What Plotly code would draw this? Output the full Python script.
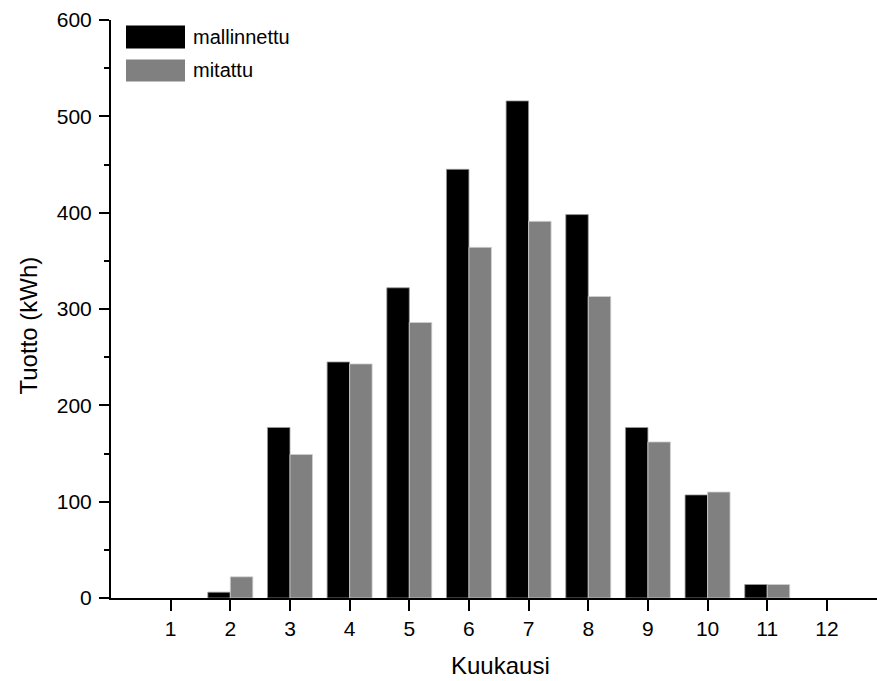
import plotly.graph_objects as go

months = [1, 2, 3, 4, 5, 6, 7, 8, 9, 10, 11, 12]
mallinnettu = [0, 6, 177, 245, 322, 445, 516, 398, 177, 107, 14, 0]
mitattu = [0, 22, 149, 243, 286, 364, 391, 313, 162, 110, 14, 0]
y_ticks = [0, 100, 200, 300, 400, 500, 600]
y_minor_ticks = [50, 150, 250, 350, 450, 550]

FONT = "Liberation Sans, Arial, sans-serif"


def outline(values, color):
    return [color if v > 0 else "rgba(0,0,0,0)" for v in values]


fig = go.Figure()
fig.add_trace(go.Bar(x=months, y=mallinnettu, name="mallinnettu",
                     marker=dict(color="#000000",
                                 line=dict(color=outline(mallinnettu, "#9a9a9a"), width=0.8)),
                     showlegend=False))
fig.add_trace(go.Bar(x=months, y=mitattu, name="mitattu",
                     marker=dict(color="#808080",
                                 line=dict(color=outline(mitattu, "#d0d0d0"), width=0.8)),
                     showlegend=False))

fig.update_layout(
    width=877, height=681,
    margin=dict(l=111, r=0, t=20, b=83),
    paper_bgcolor="white", plot_bgcolor="white",
    barmode="group", bargap=0.246, bargroupgap=0,
    font=dict(family=FONT, color="black", size=20),
    xaxis=dict(range=[0, 12.84], tickmode="array", tickvals=months,
               showgrid=False, zeroline=False, showline=True, linecolor="black", linewidth=2,
               ticks="outside", ticklen=11, tickwidth=2, tickcolor="black",
               tickfont=dict(size=21, family=FONT)),
    yaxis=dict(range=[0, 600], tickmode="array", tickvals=y_ticks,
               showgrid=False, zeroline=False, showline=True, linecolor="black", linewidth=2,
               ticks="outside", ticklen=10, tickwidth=2, tickcolor="black",
               ticklabelstandoff=3,
               tickfont=dict(size=21, family=FONT),
               minor=dict(tickmode="array", tickvals=y_minor_ticks, ticks="outside",
                          ticklen=5, tickwidth=2, tickcolor="black")),
)

PLOT_W, PLOT_H = 766, 578


def px(xp):
    return (xp - 111) / PLOT_W


def py(yp):
    return (597.5 - yp) / PLOT_H


# axis titles
fig.add_annotation(text="Kuukausi", xref="paper", yref="paper",
                   x=px(500), y=py(665), xanchor="center", yanchor="middle",
                   showarrow=False, font=dict(size=24, family=FONT))
fig.add_annotation(text="Tuotto (kWh)", xref="paper", yref="paper",
                   x=px(28), y=py(325), textangle=-90,
                   showarrow=False, xanchor="center", yanchor="middle",
                   font=dict(size=24, family=FONT))

# legend (custom swatches)
legend_items = [("mallinnettu", "#000000", 25, 48), ("mitattu", "#808080", 59, 81)]
for label, color, y0, y1 in legend_items:
    fig.add_shape(type="rect", xref="paper", yref="paper",
                  x0=px(126), x1=px(185), y0=py(y1), y1=py(y0),
                  fillcolor=color, line=dict(width=0))
    fig.add_annotation(text=label, xref="paper", yref="paper",
                       x=px(191), y=py((y0 + y1) / 2), xanchor="left", yanchor="middle",
                       showarrow=False, font=dict(size=20, family=FONT))

fig.write_html("out.html")
